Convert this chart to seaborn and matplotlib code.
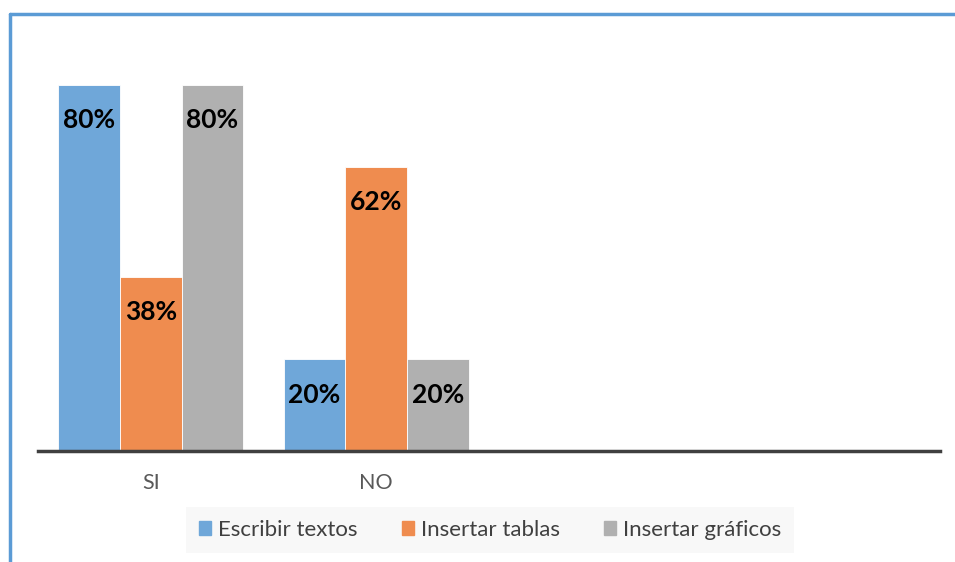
import pandas as pd
import seaborn as sns
import matplotlib.pyplot as plt
from matplotlib.lines import Line2D

# Values
categories = ['SI', 'NO']
series = ['Escribir textos', 'Insertar tablas', 'Insertar gráficos']
escribir = [0.80, 0.20]
tablas = [0.38, 0.62]
graficos = [0.80, 0.20]
# Excel left two empty category slots on the axis
slots = ['SI', 'NO', ' ', '  ']

colors = ['#6fa7d9', '#ef8c4f', '#b0b0b0']

df = pd.DataFrame({'cat': categories * 3,
                   'serie': [s for s in series for _ in categories],
                   'valor': escribir + tablas + graficos})

sns.set_theme(style='white')
plt.rcParams['font.family'] = ['Lato', 'DejaVu Sans']

fig = plt.figure(figsize=(9.55, 5.62), dpi=100)
ax = fig.add_axes([38 / 955, 1 - 451 / 562, 902 / 955, 412 / 562])

sns.barplot(data=df, x='cat', y='valor', hue='serie', order=slots,
            hue_order=series, palette=colors, saturation=1, width=0.82,
            edgecolor='white', linewidth=0.6, ax=ax)

for cont in ax.containers:
    ax.bar_label(cont, labels=['%d%%' % round(v * 100) for v in cont.datavalues],
                 label_type='edge', padding=-34, fontsize=19,
                 fontweight='bold', color='black')

ax.set_ylim(0, 0.9)
ax.set_xlim(-0.5, 3.5)
ax.set_yticks([])
ax.set_xlabel('')
ax.set_ylabel('')
for s in ['top', 'right', 'left']:
    ax.spines[s].set_visible(False)
ax.spines['bottom'].set_color('#404040')
ax.spines['bottom'].set_linewidth(2.5)
ax.tick_params(axis='x', length=0, pad=16, labelsize=15.5, labelcolor='#595959')

ax.get_legend().remove()
handles = [plt.Rectangle((0, 0), 1, 1, color=c) for c in colors]
leg = fig.legend(handles, series, loc='center', bbox_to_anchor=(490 / 955, 1 - 530 / 562),
                 ncol=3, frameon=True, fontsize=16, handlelength=0.55, handleheight=0.55,
                 handletextpad=0.3, columnspacing=2.0, borderpad=0.6, fancybox=False)
leg.get_frame().set_facecolor('#f7f7f7')
leg.get_frame().set_edgecolor('none')
for t in leg.get_texts():
    t.set_color('#404040')

# blue frame of the chart area (top and left edges)
fig.add_artist(Line2D([10 / 955, 1], [1 - 14 / 562] * 2, color='#5b9bd5', lw=2.5))
fig.add_artist(Line2D([10 / 955] * 2, [0, 1 - 14 / 562], color='#5b9bd5', lw=2.5))

fig.savefig('out.png', dpi=100)
